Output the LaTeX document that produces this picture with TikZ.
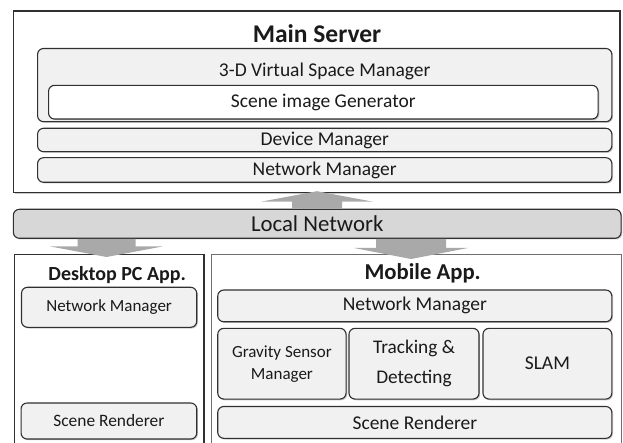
\documentclass[tikz,border=0pt]{standalone}
\usepackage{fontspec}
\setmainfont{Carlito}
\usetikzlibrary{calc,shadows}

\definecolor{edge}{HTML}{303030}
\definecolor{boxfill}{HTML}{F1F1F1}
\definecolor{netfill}{HTML}{D7D7D7}
\definecolor{arrowfill}{HTML}{A9A9A9}
\definecolor{ink}{HTML}{1A1A1A}

% wide block arrow: start, tip, shaft half-width, head half-width, head length
\newcommand\blockarrow[5]{%
  \fill[arrowfill]
    ($(#1)+(-#3,0)$) -- ($(#2)!#5!(#1)+(-#3,0)$) -- ($(#2)!#5!(#1)+(-#4,0)$)
    -- (#2) --
    ($(#2)!#5!(#1)+(#4,0)$) -- ($(#2)!#5!(#1)+(#3,0)$) -- ($(#1)+(#3,0)$) -- cycle;}

\tikzset{
  x=1pt, y=-1pt,
  softshadow/.style={drop shadow={shadow xshift=1.2pt, shadow yshift=-1.2pt, opacity=0.35, fill=black!60}},
  panel/.style={draw=edge, line width=1.3pt, fill=white, inner sep=0pt},
  module/.style={draw=edge, line width=1.1pt, rounded corners=6pt, fill=boxfill,
    inner sep=0pt, align=center, text=ink, softshadow},
  bigtext/.style={font=\fontsize{19.5}{22}\selectfont},
  smalltext/.style={font=\fontsize{17}{22}\selectfont},
  title/.style={text=ink, inner sep=0pt},
}

\begin{document}
\begin{tikzpicture}
\useasboundingbox (0,0) rectangle (623,443);
\clip (0,0) rectangle (623,443);

% ---- main server ----
\node[panel, softshadow, minimum width=606.7pt, minimum height=181.5pt] (ms) at (316.7,101.8) {};
\node[title, font=\fontsize{25.5}{28}\bfseries] (mstitle) at (317,34) {Main Server};
\node[module, minimum width=574.3pt, minimum height=73.2pt] (vsm) at (324.7,85.1) {};
\node[title, bigtext] (vsmtitle) at (324.7,71.7) {3-D Virtual Space Manager};
\node[module, fill=white, minimum width=549.5pt, minimum height=33.7pt, bigtext] (sig) at (323.3,102.2) {Scene image Generator};
\node[module, minimum width=574.3pt, minimum height=23.4pt, bigtext] (dm) at (324.7,140) {Device Manager};
\node[module, minimum width=574.3pt, minimum height=24.6pt, bigtext] (snm) at (324.7,170) {Network Manager};

% ---- local network ----
\node[module, fill=netfill, minimum width=607.7pt, minimum height=29pt,
      font=\fontsize{22.8}{25}\selectfont] (ln) at (317.2,223.8) {Local Network};

% ---- desktop PC application ----
\node[panel, anchor=north west, minimum width=189.9pt, minimum height=215pt] (dpc) at (13.5,254) {};
\node[title, font=\fontsize{20}{22}\bfseries] (dpctitle) at (117.2,275) {Desktop PC App.};
\node[module, minimum width=175.2pt, minimum height=40pt, smalltext] (dnm) at (109.1,307.3) {Network Manager};
\node[module, minimum width=175.7pt, minimum height=36pt, font=\fontsize{17.4}{22}\selectfont] (dsr) at (108.9,421) {Scene Renderer};

% ---- mobile application ----
\node[panel, draw=edge!70, anchor=north west, minimum width=410.4pt, minimum height=215pt] (mob) at (210.6,254) {};
\node[title, font=\fontsize{22.7}{25}\bfseries] (mobtitle) at (422.7,273.3) {Mobile App.};
\node[module, minimum width=394.1pt, minimum height=31.7pt, bigtext] (mnm) at (414.8,305.9) {Network Manager};
\node[module, minimum width=128.3pt, minimum height=70.7pt, font=\fontsize{17}{22}\selectfont] (grav) at (281.9,363.7) {Gravity Sensor\\Manager};
\node[module, minimum width=130pt, minimum height=70.7pt, font=\fontsize{19.3}{30}\selectfont] (trk) at (414,363.7) {Tracking \&\\Detecting};
\node[module, minimum width=128.8pt, minimum height=70.7pt, bigtext] (slam) at (547.4,363.7) {SLAM};
\node[module, minimum width=394.1pt, minimum height=31.8pt, bigtext] (msr) at (414.8,422.4) {Scene Renderer};

% ---- data flow arrows ----
\coordinate (upS) at (ln.north -| 317,0);
\coordinate (upE) at ($(ms.south -| 317,0)+(0,-2)$);
\blockarrow{upS}{upE}{25}{56}{10.5pt}

\coordinate (dlS) at (ln.south -| 106.5,0);
\coordinate (dlE) at ($(dpc.north -| 106.5,0)+(0,3)$);
\blockarrow{dlS}{dlE}{29}{56.5}{10.6pt}

\coordinate (drS) at (ln.south -| 411,0);
\coordinate (drE) at ($(mob.north -| 411,0)+(0,5)$);
\blockarrow{drS}{drE}{35}{57}{11pt}
\end{tikzpicture}
\end{document}
